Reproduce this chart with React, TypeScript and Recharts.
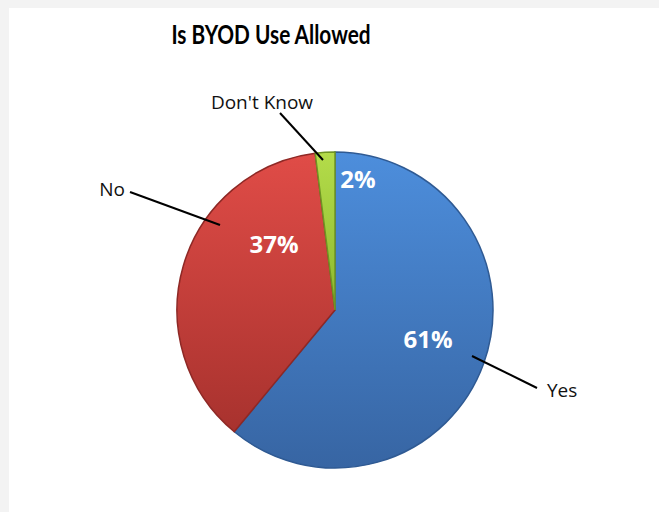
import { PieChart, Pie, Cell } from "recharts";

const categories = ["Yes", "No", "Don't Know"];
const shares = [61, 37, 2];

const data = categories.map((name, i) => ({ name, value: shares[i] }));

// label placement, offsets from the pie centre
const labelLayout = [
    { inner: [93, 28], line: [137, 46, 202, 78], text: [212, 80], anchor: "start" },
    { inner: [-61, -67], line: [-205, -118, -115, -85], text: [-210, -121], anchor: "end" },
    { inner: [23, -132], line: [-55, -197, -12, -150], text: [-73, -208], anchor: "middle" },
];

const gradients = [
    { id: "gYes", top: "#4d8edc", bottom: "#3765a3", stroke: "#2f5a93" },
    { id: "gNo", top: "#e04c47", bottom: "#a8322e", stroke: "#8e2825" },
    { id: "gDk", top: "#b4dc4a", bottom: "#8bb82e", stroke: "#6f9423" },
];

const renderLabel = (props: any) => {
    const { cx, cy, index, name, value } = props;
    const l = labelLayout[index];
    return (
        <g>
            <text
                x={cx + l.inner[0]}
                y={cy + l.inner[1]}
                fill="#ffffff"
                fontSize={24}
                fontWeight={700}
                fontFamily="'Open Sans', sans-serif"
                textAnchor="middle"
                dominantBaseline="central"
            >
                {value}%
            </text>
            <line
                x1={cx + l.line[0]}
                y1={cy + l.line[1]}
                x2={cx + l.line[2]}
                y2={cy + l.line[3]}
                stroke="#000000"
                strokeWidth={2}
            />
            <text
                x={cx + l.text[0]}
                y={cy + l.text[1]}
                fill="#111111"
                fontSize={19}
                fontFamily="'Open Sans', sans-serif"
                textAnchor={l.anchor}
                dominantBaseline="central"
            >
                {name}
            </text>
        </g>
    );
};

export default function App() {
    return (
        <div style={{ position: "absolute", left: 0, top: 0, width: 659, height: 512, background: "#f3f3f3" }}>
            <div style={{ position: "absolute", left: 9, top: 8, width: 650, height: 504, background: "#ffffff" }} />
            <div
                style={{
                    position: "absolute",
                    left: 0,
                    top: 19,
                    width: 542,
                    textAlign: "center",
                    fontFamily: "Lato, sans-serif",
                    fontWeight: 700,
                    fontSize: 26,
                    lineHeight: "30px",
                    color: "#000",
                    transform: "scaleX(0.8)",
                    transformOrigin: "271px 0",
                }}
            >
                Is BYOD Use Allowed
            </div>
            <div style={{ position: "absolute", left: 0, top: 0 }}>
                <PieChart width={659} height={512} margin={{ top: 0, right: 0, bottom: 0, left: 0 }}>
                    <defs>
                        {gradients.map((g) => (
                            <linearGradient key={g.id} id={g.id} x1="0" y1="0" x2="0" y2="1">
                                <stop offset="0%" stopColor={g.top} />
                                <stop offset="100%" stopColor={g.bottom} />
                            </linearGradient>
                        ))}
                    </defs>
                    <Pie
                        data={data}
                        dataKey="value"
                        nameKey="name"
                        cx={335}
                        cy={310}
                        outerRadius={158}
                        startAngle={90}
                        endAngle={-270}
                        label={renderLabel}
                        labelLine={false}
                        isAnimationActive={false}
                    >
                        {data.map((d, i) => (
                            <Cell key={d.name} fill={`url(#${gradients[i].id})`} stroke={gradients[i].stroke} strokeWidth={1.5} />
                        ))}
                    </Pie>
                </PieChart>
            </div>
        </div>
    );
}
